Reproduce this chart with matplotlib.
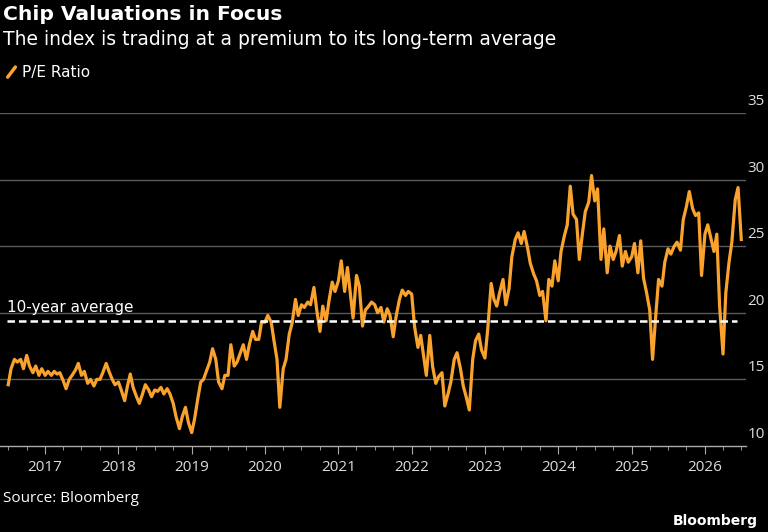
import matplotlib
matplotlib.use('Agg')
import matplotlib.pyplot as plt
import matplotlib.dates as mdates
import pandas as pd

pe_ratio = [
    14.6, 15.8, 16.5, 16.3, 16.5, 15.8, 16.8, 16.0, 15.5, 16.0, 15.3, 15.8,
    15.3, 15.6, 15.3, 15.6, 15.4, 15.5, 14.9, 14.3, 15.0, 15.3, 15.7, 16.2,
    15.3, 15.6, 14.7, 15.0, 14.5, 15.0, 15.0, 15.5, 16.2, 15.6, 15.0, 14.6,
    14.8, 14.2, 13.4, 14.5, 15.4, 14.4, 13.7, 13.2, 13.9, 14.6, 14.2, 13.7,
    14.2, 14.1, 14.4, 13.9, 14.3, 13.9, 13.2, 12.2, 11.3, 12.2, 12.9, 11.8,
    11.0, 12.0, 13.6, 14.8, 15.0, 15.6, 16.3, 17.3, 16.5, 14.8, 14.3, 15.3,
    15.3, 17.6, 16.0, 16.3, 17.0, 17.6, 16.5, 17.6, 18.6, 18.0, 18.0, 19.3,
    19.3, 19.8, 19.3, 17.9, 16.5, 12.9, 15.8, 16.5, 18.4, 19.2, 21.0, 19.8,
    20.6, 20.4, 20.8, 20.6, 21.9, 20.2, 18.6, 20.5, 19.4, 20.9, 22.3, 21.6,
    22.4, 23.9, 21.6, 23.4, 21.5, 19.6, 22.8, 22.0, 19.0, 20.2, 20.5, 20.8,
    20.6, 20.0, 20.4, 19.3, 20.3, 19.8, 18.2, 19.7, 21.0, 21.7, 21.3, 21.6,
    21.4, 19.0, 17.4, 18.3, 16.8, 15.3, 18.3, 16.0, 14.7, 15.2, 15.5, 13.0,
    13.9, 14.8, 16.5, 17.0, 15.8, 14.5, 13.6, 12.7, 16.5, 17.9, 18.4, 17.2,
    16.6, 18.8, 22.2, 21.0, 20.5, 21.5, 22.5, 20.6, 21.8, 24.2, 25.5, 26.0,
    25.2, 26.1, 24.9, 23.7, 22.9, 22.4, 21.3, 21.6, 19.4, 22.5, 22.0, 23.9,
    22.4, 24.6, 25.8, 26.6, 29.5, 27.4, 27.0, 24.0, 26.0, 27.6, 28.3, 30.3,
    28.4, 29.3, 24.0, 26.3, 23.0, 25.0, 24.0, 24.6, 25.8, 23.5, 24.6, 23.8,
    24.2, 25.2, 23.0, 25.4, 22.6, 21.6, 20.2, 16.5, 19.8, 22.5, 22.0, 23.8,
    24.8, 24.4, 25.0, 25.3, 24.7, 27.0, 28.0, 29.1, 27.8, 27.3, 27.5, 22.8,
    25.9, 26.6, 25.5, 24.6, 25.9, 20.5, 16.9, 21.5, 23.8, 25.3, 28.5, 29.4,
    25.5,
]
dates = pd.date_range('2016-07-01', periods=len(pe_ratio), freq='SMS')

ten_year_avg = 19.4
avg_start, avg_end = pd.Timestamp('2016-06-26'), pd.Timestamp('2026-06-10')
y_ticks = [10, 15, 20, 25, 30, 35]

orange = '#F9A32E'
grid_grey = '#5a5a5a'
num_font = 'Open Sans'
txt_font = 'DejaVu Sans'

fig = plt.figure(figsize=(7.68, 5.32), dpi=100, facecolor='black')
ax = fig.add_axes([0.0, 0.1617, 0.972, 0.626], facecolor='black')

ax.plot(dates, pe_ratio, color=orange, linewidth=2.3, solid_joinstyle='round', zorder=3)
ax.plot([avg_start, avg_end], [ten_year_avg, ten_year_avg], color='white',
        linewidth=1.8, dashes=(3.0, 1.6), zorder=4)
ax.text(avg_start, ten_year_avg + 0.45, '10-year average', color='white',
        fontsize=11, family=txt_font, va='bottom', ha='left')

ax.set_ylim(10, 35)
ax.set_xlim(pd.Timestamp('2016-05-21'), pd.Timestamp('2026-07-27'))

# gridlines with labels sitting above them on the right
for v in y_ticks[1:]:
    ax.axhline(v, color=grid_grey, linewidth=1.0, zorder=1)
for v in y_ticks:
    ax.text(1.0245, v + 0.3, str(v), transform=ax.get_yaxis_transform(),
            color='#dddddd', fontsize=11, family=num_font, ha='right', va='bottom')

ax.set_yticks([])
for s in ['top', 'right', 'left']:
    ax.spines[s].set_visible(False)
ax.spines['bottom'].set_color('#aaaaaa')
ax.spines['bottom'].set_linewidth(1.0)

ax.xaxis.set_major_locator(mdates.YearLocator())
ax.xaxis.set_major_formatter(mdates.DateFormatter('%Y'))
ax.xaxis.set_minor_locator(mdates.MonthLocator(bymonth=[1, 4, 7, 10]))
ax.tick_params(axis='x', which='major', length=6, color='#aaaaaa', labelcolor='#dddddd',
               labelsize=11, pad=4)
ax.tick_params(axis='x', which='minor', length=3, color='#aaaaaa')
for lab in ax.get_xticklabels():
    lab.set_family(num_font)

# header
fig.text(0.004, 0.972, 'Chip Valuations in Focus', color='white', fontsize=14.6,
         fontweight='bold', family=txt_font, va='center', ha='left')
fig.text(0.004, 0.925, 'The index is trading at a premium to its long-term average',
         color='white', fontsize=13.5, family=txt_font, va='center', ha='left')

# legend
fig.add_artist(plt.Line2D([0.010, 0.020], [0.855, 0.874], color=orange, linewidth=2.5,
                          solid_capstyle='round', transform=fig.transFigure))
fig.text(0.029, 0.864, 'P/E Ratio', color='white', fontsize=11, family=txt_font,
         va='center', ha='left')

# footer
fig.text(0.004, 0.063, 'Source: Bloomberg', color='white', fontsize=11, family=num_font,
         va='center', ha='left')
fig.text(0.987, 0.020, 'Bloomberg', color='white', fontsize=10, fontweight='bold',
         family=txt_font, va='center', ha='right')

plt.savefig('out.png', dpi=100, facecolor='black')
